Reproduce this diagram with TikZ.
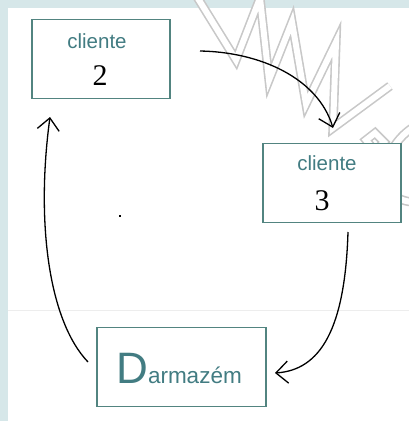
\documentclass[tikz,border=0pt]{standalone}
\usepackage{fontspec}
\setmainfont{Liberation Serif}
\setsansfont{Liberation Sans}
\usetikzlibrary{arrows.meta}
\definecolor{boxline}{HTML}{528480}
\definecolor{tealtext}{HTML}{427C82}
\definecolor{bgstrip}{HTML}{D6E7E9}
\definecolor{wmark}{HTML}{C8C8C8}
\begin{document}
\begin{tikzpicture}[x=1pt,y=-1pt,
  boxnode/.style={draw=boxline,line width=1.8pt,fill=white,minimum width=#1,minimum height=79pt,inner sep=0pt},
  clabel/.style={font=\sffamily\fontsize{20.5}{20.5}\selectfont,text=tealtext,anchor=base,inner sep=0pt},
  numlabel/.style={font=\rmfamily\fontsize{30}{30}\selectfont,text=black,anchor=base,inner sep=0pt},
  flow/.style={line width=1.3pt,black,-{Straight Barb[length=12pt,width=22pt,line width=1.3pt]}},
  wm/.style={draw=wmark,line width=1.6pt,double=white,double distance=6pt,line join=miter}]
\useasboundingbox (0,0) rectangle (409,421);
% background
\fill[bgstrip] (0,0) rectangle (409,421);
\fill[white] (8,8) rectangle (409,421);
\draw[black!7,line width=0.6pt] (8,310) -- (409,310);
% watermark
\draw[wm] (194,-8) -- (236,60) -- (260,-2) -- (269,80) -- (292,22) -- (306,104) -- (336,42) -- (333,128) -- (390,86);
\draw[wm] (366,140) -- (375,133) -- (384,142) -- (375,151) -- cycle;
\draw[wm] (412,128) .. controls (380,150) and (372,198) .. (412,202);
% boxes
\node[boxnode=138pt] (c2) at (101,59) {};
\node[boxnode=138pt] (c3) at (332,183) {};
\node[boxnode=169pt] (d) at (181.5,367) {};
% texts
\node[clabel] (c2t) at (97,48) {cliente};
\node[numlabel] (c2n) at (100,85) {2};
\node[clabel] (c3t) at (327,170) {cliente};
\node[numlabel] (c3n) at (322,210) {3};
\node[anchor=base,inner sep=0pt,text=tealtext,font=\sffamily] (dt) at (179,383)
  {{\fontsize{44}{44}\selectfont D}{\fontsize{22.5}{22.5}\selectfont armazém}};
\node[fill=black,minimum size=2pt,inner sep=0pt] (dot) at (120,216) {};
% connectors
\coordinate (a1s) at (200,51);
\coordinate (a1e) at (333,128);
\coordinate (a2s) at (348,232);
\coordinate (a2e) at (275,373);
\coordinate (a3s) at (88,362);
\coordinate (a3e) at (50,117);
\draw[flow] (a1s) .. controls (260,52) and (318,78) .. (a1e);
\draw[flow] (a2s) .. controls (345,330) and (320,370) .. (a2e);
\draw[flow] (a3s) .. controls (48,320) and (36,220) .. (a3e);
\end{tikzpicture}
\end{document}
